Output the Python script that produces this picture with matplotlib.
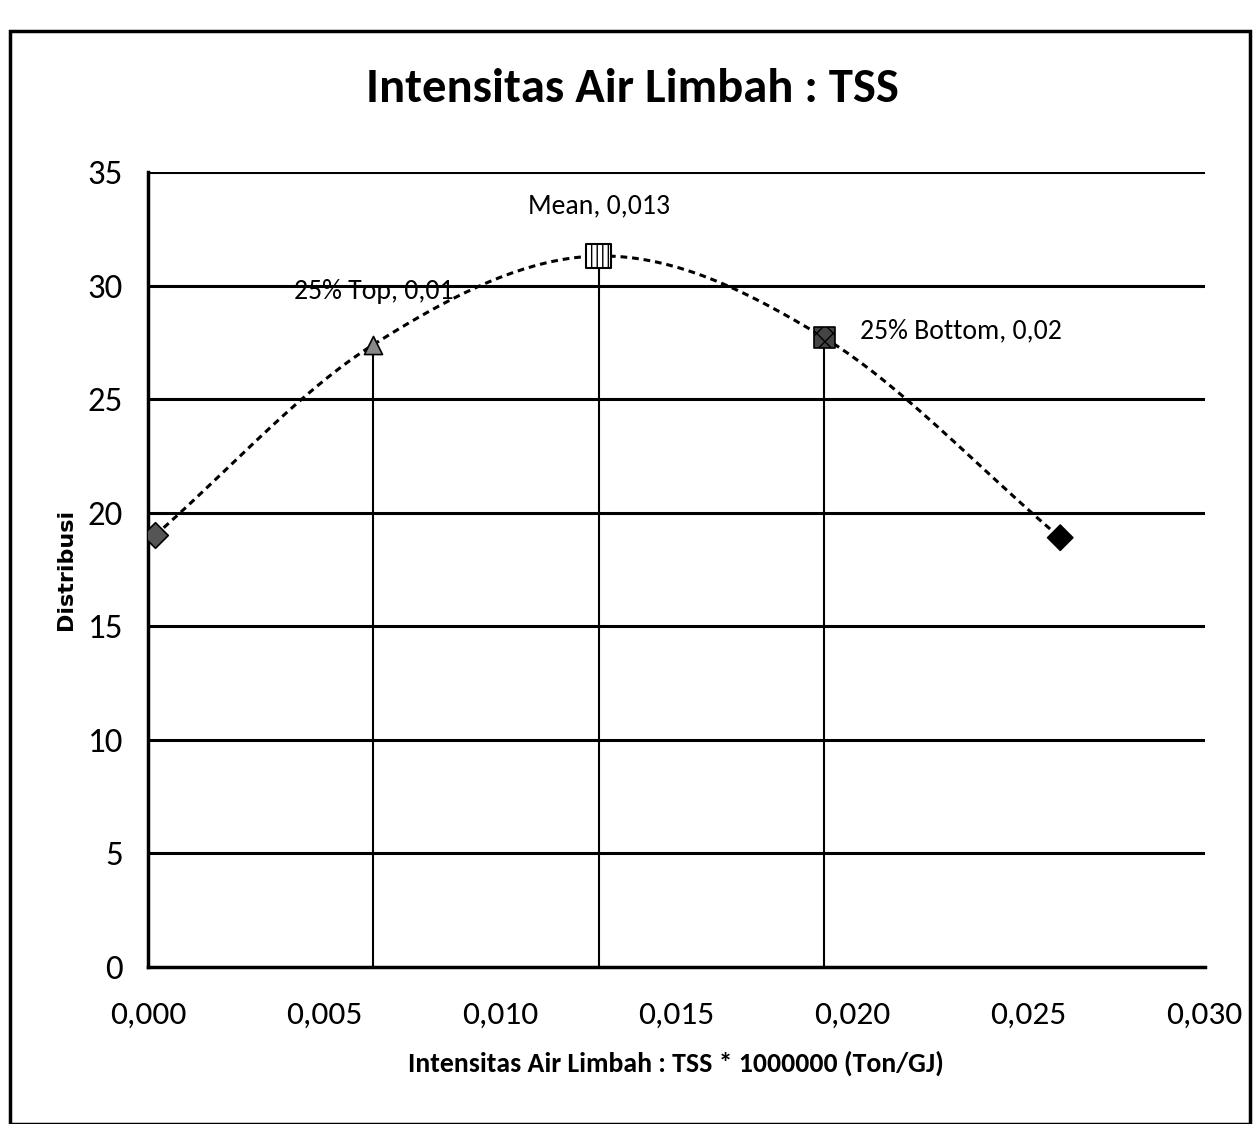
import numpy as np
import matplotlib
matplotlib.use("Agg")
import matplotlib.pyplot as plt
from matplotlib import font_manager
from matplotlib.patches import Rectangle

# ---- data ----
labels = ["Min", "25% Top", "Mean", "25% Bottom", "Max"]
x_vals = [0.0002, 0.0064, 0.0128, 0.0192, 0.0259]
y_vals = [19.0, 27.4, 31.3, 27.7, 18.9]
label_texts = ["", "25% Top, 0,01", "Mean, 0,013", "25% Bottom, 0,02", ""]
x_ticks = [0.000, 0.005, 0.010, 0.015, 0.020, 0.025, 0.030]
x_tick_labels = ["0,000", "0,005", "0,010", "0,015", "0,020", "0,025", "0,030"]
y_ticks = [0, 5, 10, 15, 20, 25, 30, 35]

names = {f.name for f in font_manager.fontManager.ttflist}
narrow = "Liberation Sans"
for cand in ["Carlito", "Archivo Narrow", "Liberation Sans Narrow", "Roboto Condensed", "Open Sans"]:
    if cand in names:
        narrow = cand
        break

fig = plt.figure(figsize=(12.58, 11.24), dpi=100)
fig.patches.append(Rectangle((0.008, 0.0), 0.986, 0.972, transform=fig.transFigure,
                             fill=False, edgecolor="black", linewidth=2.5))
ax = fig.add_axes([0.1176, 0.1397, 0.840, 0.7073])

# smooth curve (Catmull-Rom through the points, like Excel smoothed line)
xs = np.array(x_vals); ys = np.array(y_vals)
px = np.concatenate([[2*xs[0]-xs[1]], xs, [2*xs[-1]-xs[-2]]])
py = np.concatenate([[2*ys[0]-ys[1]], ys, [2*ys[-1]-ys[-2]]])
cx, cy = [], []
t = np.linspace(0, 1, 40)
for i in range(1, len(px)-2):
    p0, p1, p2, p3 = [np.array([px[j], py[j]]) for j in (i-1, i, i+1, i+2)]
    for tt in t:
        pt = 0.5*((2*p1) + (-p0+p2)*tt + (2*p0-5*p1+4*p2-p3)*tt**2 + (-p0+3*p1-3*p2+p3)*tt**3)
        cx.append(pt[0]); cy.append(pt[1])

for yv in y_ticks[1:]:
    ax.axhline(yv, color="black", linewidth=2.2, zorder=1)

ax.plot(cx, cy, linestyle=(0, (2.2, 1.6)), color="black", linewidth=2.2, zorder=3)

# drop lines
for i in (1, 2, 3):
    ax.vlines(x_vals[i], 0, y_vals[i], color="black", linewidth=1.5, zorder=2)

# markers
ax.scatter([x_vals[0]], [y_vals[0]], marker="D", s=170, color="#555555", edgecolor="black", linewidths=1.2, zorder=4)
ax.scatter([x_vals[1]], [y_vals[1]], marker="^", s=170, color="#888888", edgecolor="black", linewidths=1.2, zorder=4)
ax.scatter([x_vals[2]], [y_vals[2]], marker="s", s=320, color="white", edgecolor="black", hatch="|||", linewidths=1.5, zorder=4)
ax.scatter([x_vals[3]], [y_vals[3]], marker="s", s=220, color="#444444", edgecolor="black", hatch="xx", linewidths=1.2, zorder=4)
ax.scatter([x_vals[4]], [y_vals[4]], marker="D", s=170, color="black", edgecolor="black", hatch="|", linewidths=1.0, zorder=4)

# data labels
ax.annotate(label_texts[1], (x_vals[1], y_vals[1]), xytext=(0, 38), textcoords="offset points",
            ha="center", va="center", fontsize=20, family=narrow)
ax.annotate(label_texts[2], (x_vals[2], y_vals[2]), xytext=(0, 36), textcoords="offset points",
            ha="center", va="center", fontsize=20, family=narrow)
ax.annotate(label_texts[3], (x_vals[3], y_vals[3]), xytext=(26, 5), textcoords="offset points",
            ha="left", va="center", fontsize=20, family=narrow)

ax.set_xlim(0, 0.030)
ax.set_ylim(0, 35)
ax.set_xticks(x_ticks)
ax.set_xticklabels(x_tick_labels, family=narrow, fontsize=24)
ax.set_yticks(y_ticks)
ax.set_yticklabels([str(v) for v in y_ticks], family=narrow, fontsize=25)
ax.tick_params(axis="x", length=0, pad=24)
ax.tick_params(axis="y", length=0, pad=18)
for s in ("top", "right"):
    ax.spines[s].set_visible(False)
ax.spines["left"].set_linewidth(2.5)
ax.spines["bottom"].set_linewidth(2.5)

ax.set_xlabel("Intensitas Air Limbah : TSS * 1000000 (Ton/GJ)", family=narrow,
              fontsize=20, fontweight="bold", labelpad=16)
ax.set_ylabel("Distribusi", fontsize=16, fontweight="bold", labelpad=8)
fig.text(0.503, 0.921, "Intensitas Air Limbah : TSS", ha="center", va="center",
         fontsize=35, fontweight="bold", family=narrow)

fig.savefig("out.png", dpi=100)
